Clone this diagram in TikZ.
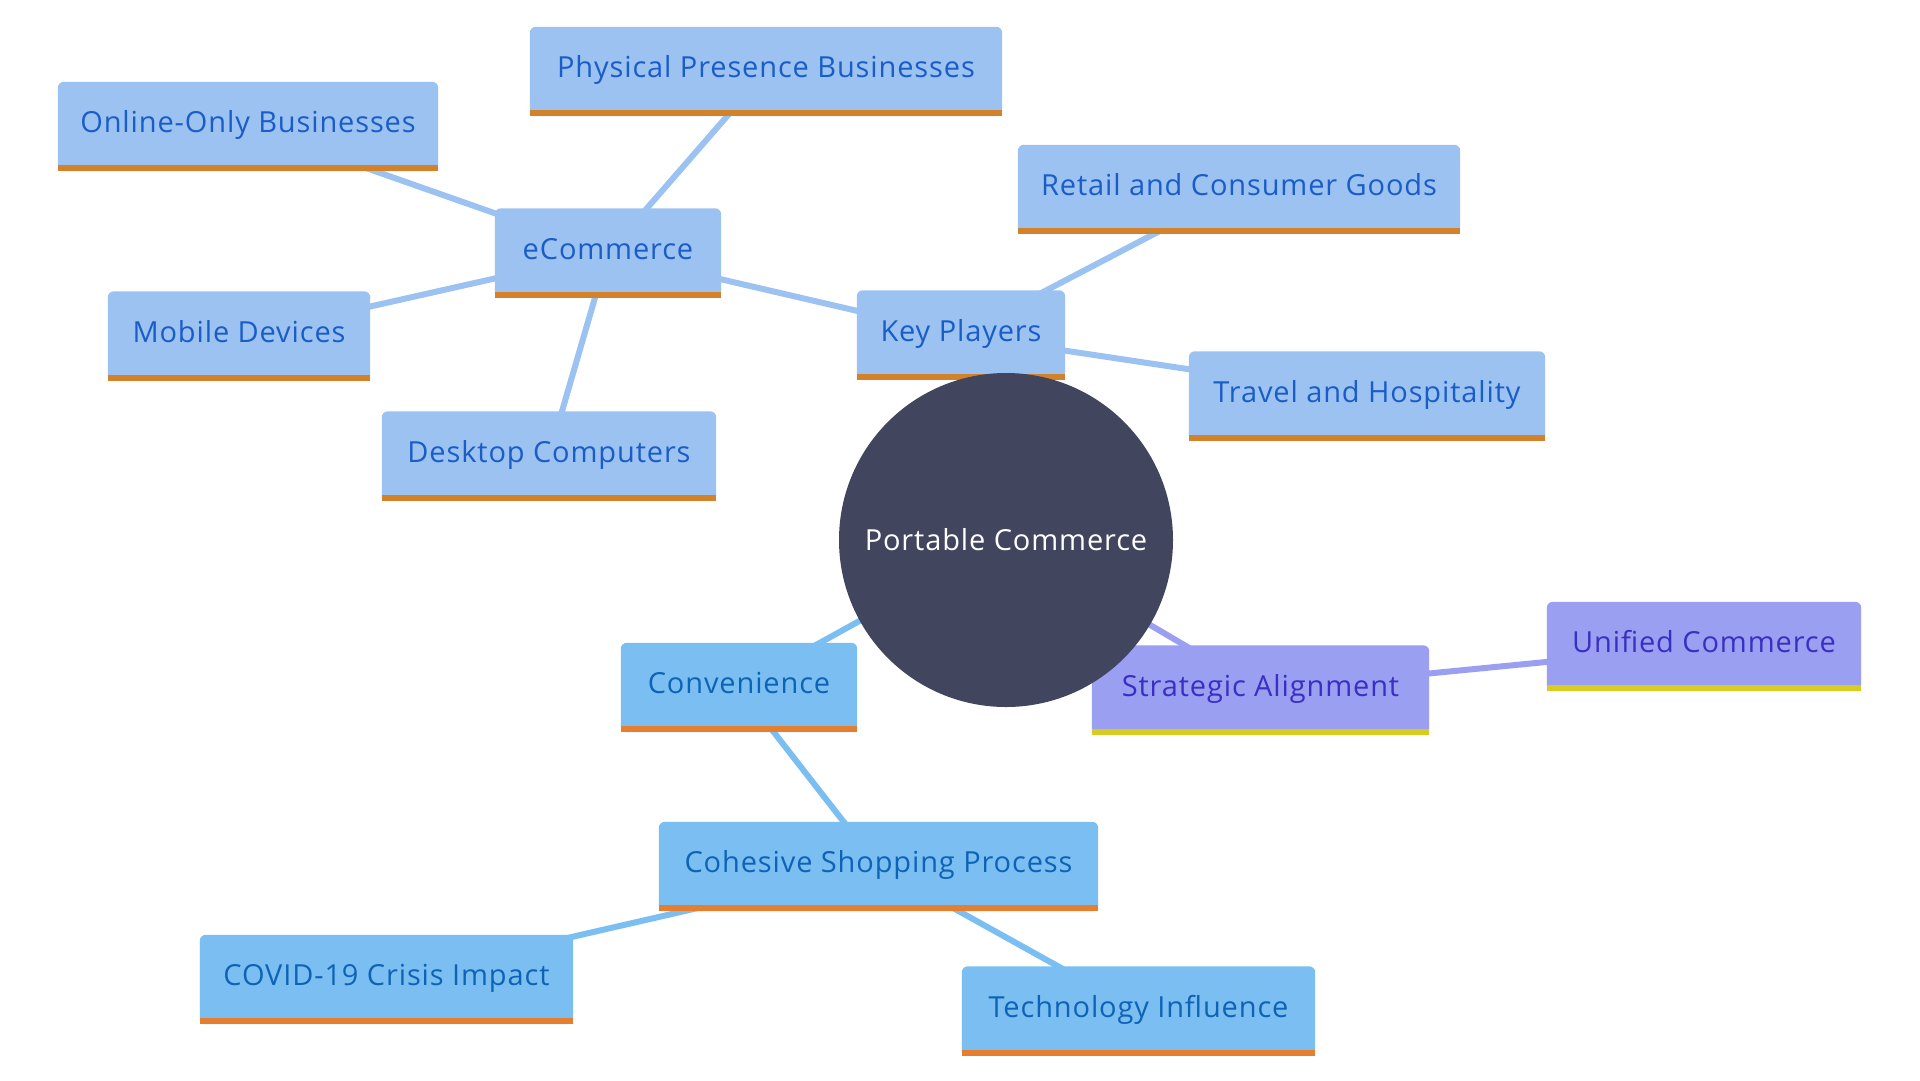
\documentclass[tikz,border=0pt]{standalone}
\usepackage{fontspec}
\setmainfont{Open Sans}[LetterSpace=3]
\pgfdeclarelayer{bgwhite}
\pgfdeclarelayer{edges}
\pgfdeclarelayer{boxes}
\pgfsetlayers{bgwhite,edges,boxes,main}
\definecolor{lbfill}{HTML}{9BC2F0}
\definecolor{lbtext}{HTML}{1A5DC7}
\definecolor{cbfill}{HTML}{7BBFF2}
\definecolor{cbtext}{HTML}{0F63B5}
\definecolor{pufill}{HTML}{9B9FF2}
\definecolor{putext}{HTML}{3A2FC2}
\definecolor{orbar}{HTML}{D4822A}
\definecolor{orbarb}{HTML}{E67E30}
\definecolor{yebar}{HTML}{D8CC20}
\definecolor{hub}{HTML}{41455E}
\newcommand{\boxbg}[3]{%
  \begin{pgfonlayer}{boxes}
    \fill[#2, rounded corners=6pt] (#1.south west) rectangle (#1.north east);
    \fill[#2] (#1.south west) rectangle ([yshift=12pt]#1.south east);
    \fill[#3] (#1.south west) rectangle ([yshift=6pt]#1.south east);
  \end{pgfonlayer}}
\begin{document}
\begin{tikzpicture}[x=1pt,y=-1pt,
  box/.style={minimum height=89pt, inner sep=0pt, text height=22pt, text depth=9.5pt, font=\fontsize{29}{34}\selectfont, anchor=center},
  lb/.style={box, text=lbtext},
  cb/.style={box, text=cbtext},
  pb/.style={box, text=putext},
  lbedge/.style={draw=lbfill, line width=6pt},
  cbedge/.style={draw=cbfill, line width=6pt},
  pbedge/.style={draw=pufill, line width=6pt}]
\useasboundingbox (0,0) rectangle (1920,1080);
\begin{pgfonlayer}{bgwhite}
\fill[white] (0,0) rectangle (1920,1080);
\end{pgfonlayer}

\node[circle, fill=hub, minimum size=334pt, inner sep=0pt, text=white, font=\fontsize{29}{34}\selectfont] (hubn) at (1006,540) {Portable Commerce};

\node[lb, minimum width=472pt] (phys) at (766,71.5) {Physical Presence Businesses};
\node[lb, minimum width=380pt] (online) at (248,126.5) {Online-Only Businesses};
\node[lb, minimum width=226pt] (ecom) at (608,253) {eCommerce};
\node[lb, minimum width=262pt] (mobile) at (239,336) {Mobile Devices};
\node[lb, minimum width=334pt] (desk) at (549,456) {Desktop Computers};
\node[lb, minimum width=442pt] (retail) at (1239,189.5) {Retail and Consumer Goods};
\node[lb, minimum width=208pt] (key) at (961,335) {Key Players};
\node[lb, minimum width=356pt] (travel) at (1367,396) {Travel and Hospitality};
\node[cb, minimum width=236pt] (conv) at (739,687.5) {Convenience};
\node[pb, minimum width=337pt] (strat) at (1260.5,690) {Strategic Alignment};
\node[pb, minimum width=314pt] (unif) at (1704,646.5) {Unified Commerce};
\node[cb, minimum width=439pt] (cohes) at (878.5,866.5) {Cohesive Shopping Process};
\node[cb, minimum width=373pt] (covid) at (386.5,979.5) {COVID-19 Crisis Impact};
\node[cb, minimum width=353pt] (tech) at (1138.5,1011) {Technology Influence};

\boxbg{phys}{lbfill}{orbar}
\boxbg{online}{lbfill}{orbar}
\boxbg{ecom}{lbfill}{orbar}
\boxbg{mobile}{lbfill}{orbar}
\boxbg{desk}{lbfill}{orbar}
\boxbg{retail}{lbfill}{orbar}
\boxbg{key}{lbfill}{orbar}
\boxbg{travel}{lbfill}{orbar}
\boxbg{conv}{cbfill}{orbarb}
\boxbg{cohes}{cbfill}{orbarb}
\boxbg{covid}{cbfill}{orbarb}
\boxbg{tech}{cbfill}{orbarb}
\boxbg{strat}{pufill}{yebar}
\boxbg{unif}{pufill}{yebar}

\begin{pgfonlayer}{edges}
\draw[lbedge] (hubn.center) -- (key.center);
\draw[lbedge] (key.center) -- (ecom.center);
\draw[lbedge] (key.center) -- (retail.center);
\draw[lbedge] (key.center) -- (travel.center);
\draw[lbedge] (ecom.center) -- (phys.center);
\draw[lbedge] (ecom.center) -- (online.center);
\draw[lbedge] (ecom.center) -- (mobile.center);
\draw[lbedge] (ecom.center) -- (desk.center);
\draw[cbedge] (hubn.center) -- (conv.center);
\draw[cbedge] (conv.center) -- (cohes.center);
\draw[cbedge] (cohes.center) -- (covid.center);
\draw[cbedge] (cohes.center) -- (tech.center);
\draw[pbedge] (hubn.center) -- (strat.center);
\draw[pbedge] (strat.center) -- (unif.center);
\end{pgfonlayer}
\end{tikzpicture}
\end{document}
